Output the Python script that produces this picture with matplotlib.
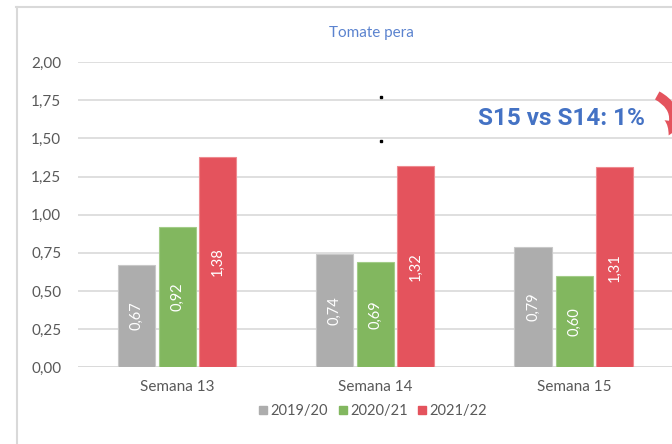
import numpy as np
import matplotlib.pyplot as plt
from matplotlib.patches import FancyArrowPatch
from matplotlib.lines import Line2D

plt.rcParams['font.family'] = ['Lato', 'DejaVu Sans']

weeks = ['Semana 13', 'Semana 14', 'Semana 15']
seasons = ['2019/20', '2020/21', '2021/22']
v_1920 = [0.67, 0.74, 0.79]
v_2021 = [0.92, 0.69, 0.60]
v_2122 = [1.38, 1.32, 1.31]
yticks = [0, 0.25, 0.5, 0.75, 1.0, 1.25, 1.5, 1.75, 2.0]

colors = ['#ADADAD', '#82B75F', '#E4535D']
edges = ['#C8C8C8', '#A3CC88', '#EE8A90']

fig = plt.figure(figsize=(6.72, 4.44), dpi=100)
ax = fig.add_axes([0.116, 0.173, 0.886, 0.687])

x = np.arange(len(weeks))
w = 0.187
offs = [-0.207, 0.0, 0.202]
for vals, off, c, ec, lab in zip([v_1920, v_2021, v_2122], offs, colors, edges, seasons):
    bars = ax.bar(x + off, vals, w, color=c, edgecolor=ec, linewidth=0.8, label=lab, zorder=3)
    for b, v in zip(bars, vals):
        ax.text(b.get_x() + b.get_width() / 2, v / 2, f'{v:.2f}'.replace('.', ','),
                rotation=90, ha='center', va='center', color='white', fontsize=10.5, zorder=4)

ax.set_xlim(-0.5, 2.5)
ax.set_ylim(0, 2.0)
ax.set_yticks(yticks)
ax.set_yticklabels([f'{t:.2f}'.replace('.', ',') for t in yticks])
ax.set_xticks(x)
ax.set_xticklabels(weeks)
ax.yaxis.grid(True, color='#D9D9D9', linewidth=1.2, zorder=0)
ax.set_axisbelow(True)
for s in ax.spines.values():
    s.set_visible(False)
ax.tick_params(axis='both', length=0, colors='#595959', labelsize=11)
ax.tick_params(axis='y', pad=12)
ax.tick_params(axis='x', pad=9)
ax.axhline(0, color='#D9D9D9', linewidth=1.2, zorder=2)

handles = [Line2D([], [], marker='s', linestyle='', color=c, markersize=6) for c in colors]
leg = fig.legend(handles, seasons, loc='center', bbox_to_anchor=(0.553, 0.074), ncol=3,
                 frameon=False, fontsize=10.5, handletextpad=0.0, columnspacing=0.5,
                 handlelength=1.0, labelcolor='#595959')

fig.text(0.553, 0.926, 'Tomate pera', ha='center', va='center', color='#5B83CF', fontsize=11)

fig.text(0.96, 0.734, 'S15 vs S14: 1%', ha='right', va='center', color='#4472C4',
         fontsize=17.5, fontweight='bold', family=['Roboto', 'DejaVu Sans'])

# red curved arrow, mostly cut off by the right edge
arrow = FancyArrowPatch((0.978, 0.785), (0.995, 0.695), transform=fig.transFigure,
                        connectionstyle='arc3,rad=-0.5',
                        arrowstyle='simple,head_length=0.9,head_width=1.1,tail_width=0.55',
                        mutation_scale=12, color='#E4535D', linewidth=0,
                        shrinkA=0, shrinkB=0)
fig.add_artist(arrow)

# chart border
fig.add_artist(Line2D([0.024, 1.0], [0.985, 0.985], transform=fig.transFigure, color='#D9D9D9', linewidth=1.5))
fig.add_artist(Line2D([0.025, 0.025], [0.0, 0.985], transform=fig.transFigure, color='#D9D9D9', linewidth=1.5))

# stray dots
fig.add_artist(Line2D([0.567, 0.567], [0.781, 0.682], transform=fig.transFigure, linestyle='',
                      marker='s', markersize=2, color='black'))

fig.savefig('out.png', dpi=100)
